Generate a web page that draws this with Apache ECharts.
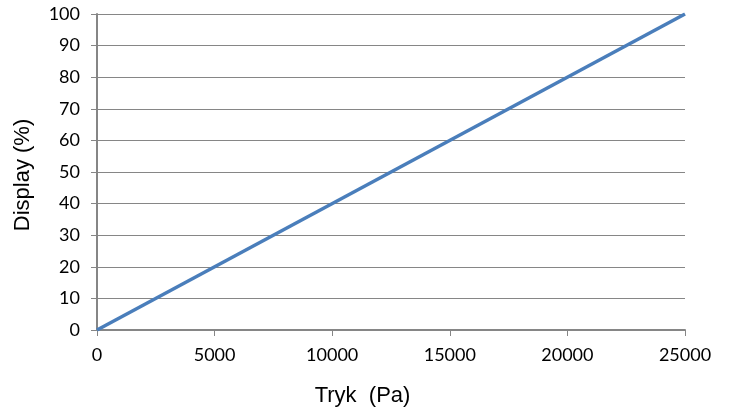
<!DOCTYPE html>
<html>
<head>
<meta charset="utf-8">
<script src="https://cdn.jsdelivr.net/npm/echarts@6/dist/echarts.min.js"></script>
<style>
html,body{margin:0;padding:0;background:#fff;}
#chart{width:730px;height:412px;}
</style>
</head>
<body>
<div id="chart"></div>
<script>
// Pressure (Pa) against display reading (%)
const pressure = [0, 25000];
const display = [0, 100];
const xTitle = 'Tryk \u00a0(Pa)';
const yTitle = 'Display (%)';

const chart = echarts.init(document.getElementById('chart'));
const tickFont = { fontFamily: 'Lato, "Open Sans", sans-serif', fontSize: 18, color: '#000' };
const titleFont = { fontFamily: '"Liberation Sans", Arial, sans-serif', fontSize: 22, color: '#000' };
chart.setOption({
  animation: false,
  grid: { left: 97, right: 45, top: 14, bottom: 82, containLabel: false },
  xAxis: {
    type: 'value', min: 0, max: 25000, interval: 5000,
    name: xTitle, nameLocation: 'middle', nameGap: 55,
    nameTextStyle: Object.assign({ padding: [0, 57, 0, 0] }, titleFont),
    axisLine: { show: true, lineStyle: { color: '#868686', width: 2 } },
    axisTick: { show: true, length: 6, lineStyle: { color: '#868686', width: 1 } },
    axisLabel: Object.assign({ margin: 16, formatter: v => String(v) }, tickFont),
    splitLine: { show: false }
  },
  yAxis: {
    type: 'value', min: 0, max: 100, interval: 10,
    name: yTitle, nameLocation: 'middle', nameGap: 63, nameRotate: 90,
    nameTextStyle: Object.assign({ padding: [0, 6, 0, 0] }, titleFont),
    axisLine: { show: true, lineStyle: { color: '#868686', width: 2 } },
    axisTick: { show: true, length: 6, lineStyle: { color: '#868686', width: 1 } },
    axisLabel: Object.assign({ margin: 17 }, tickFont),
    splitLine: { show: true, lineStyle: { color: '#868686', width: 1 } }
  },
  series: [{
    type: 'line',
    data: pressure.map((p, i) => [p, display[i]]),
    showSymbol: false,
    lineStyle: { color: '#4a7ebb', width: 3.5 },
    itemStyle: { color: '#4a7ebb' }
  }]
});
</script>
</body>
</html>
